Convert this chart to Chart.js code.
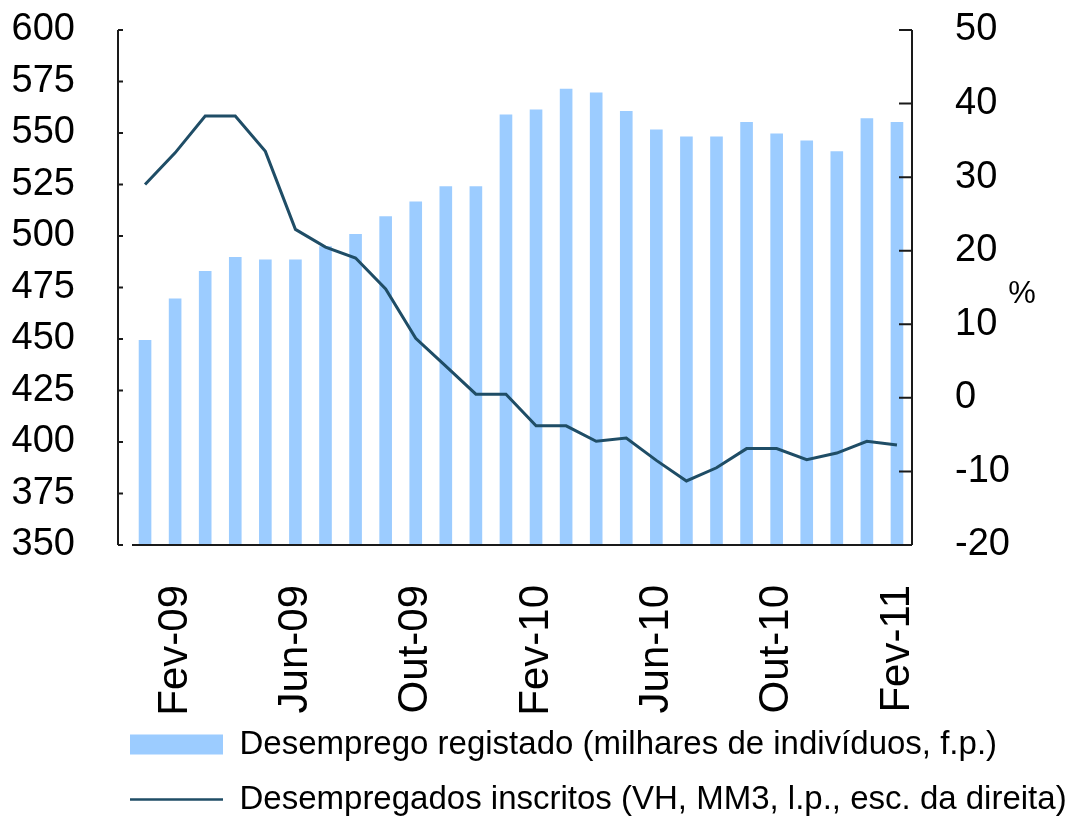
<!DOCTYPE html>
<html>
<head>
<meta charset="utf-8">
<script src="https://cdn.jsdelivr.net/npm/chart.js@4.4.1/dist/chart.umd.min.js"></script>
<style>
  html, body { margin: 0; padding: 0; background: #fff; }
  #wrap { width: 1077px; height: 821px; position: relative; }
</style>
</head>
<body>
<div id="wrap"><canvas id="desempregoChart"></canvas></div>
<script>
// Meses (Jan-09 a Fev-11)
const meses = ['Jan-09', 'Fev-09', 'Mar-09', 'Abr-09', 'Mai-09', 'Jun-09', 'Jul-09', 'Ago-09', 'Set-09',
    'Out-09', 'Nov-09', 'Dez-09', 'Jan-10', 'Fev-10', 'Mar-10', 'Abr-10', 'Mai-10', 'Jun-10', 'Jul-10',
    'Ago-10', 'Set-10', 'Out-10', 'Nov-10', 'Dez-10', 'Jan-11', 'Fev-11'];

// Desemprego registado (milhares de indivíduos) - escala da esquerda
const desemprego = [449.5, 469.6, 483, 489.8, 488.6, 488.6, 495, 501, 509.6, 516.7, 524.2, 524.2, 559,
    561.4, 571.5, 569.7, 560.7, 551.7, 548.3, 548.3, 555.3, 549.8, 546.4, 541.2, 557.1, 555.3];

// Desempregados inscritos (VH, MM3, %) - escala da direita
const inscritos = [29, 33.3, 38.3, 38.3, 33.5, 22.9, 20.5, 19.0, 14.8, 8.1, 4.3, 0.5, 0.5, -3.8, -3.8,
    -5.9, -5.45, -8.5, -11.3, -9.5, -6.9, -6.9, -8.4, -7.5, -5.9, -6.4];

const ticksEsq = [350, 375, 400, 425, 450, 475, 500, 525, 550, 575, 600];
const ticksDir = [-20, -10, 0, 10, 20, 30, 40, 50];

const corBarra = '#9cccff';
const corLinha = '#1f4d66';
const fonte = "'Liberation Sans', Arial, sans-serif";

// sem margem extra por cima/baixo causada pelo padding das etiquetas
function fixWidth(w) {
    return scale => {
        scale.width = w;
        scale.paddingTop = 0;
        scale.paddingBottom = 0;
    };
}

// Eixos desenhados à mão: eixo esquerdo afastado da área, marcas para dentro
const axisFrame = {
    id: 'axisFrame',
    afterLayout(chart) {
        // alinhar a legenda à esquerda com a área do gráfico
        const lg = chart.legend;
        lg.left = chart.chartArea.left - lg.options.labels.padding;
        lg.top = chart.chartArea.bottom + 161;
    },
    afterDraw(chart) {
        const { ctx, chartArea, scales } = chart;
        const yL = scales.y;
        const yR = scales.y1;
        ctx.save();
        ctx.strokeStyle = '#1a1a1a';
        ctx.lineWidth = 2;
        ctx.beginPath();
        const lx = chartArea.left - 12;
        ctx.moveTo(lx, yL.getPixelForValue(600));
        ctx.lineTo(lx, yL.getPixelForValue(350));
        ticksEsq.forEach(v => {
            const py = yL.getPixelForValue(v);
            ctx.moveTo(lx, py);
            ctx.lineTo(lx + 5, py);
        });
        const rx = chartArea.right;
        ctx.moveTo(rx, yR.getPixelForValue(50));
        ctx.lineTo(rx, yR.getPixelForValue(-20));
        ticksDir.forEach(v => {
            const py = yR.getPixelForValue(v);
            ctx.moveTo(rx, py);
            ctx.lineTo(rx - 13, py);
        });
        ctx.moveTo(chartArea.left + 2, chartArea.bottom);
        ctx.lineTo(rx, chartArea.bottom);
        ctx.stroke();

        ctx.fillStyle = '#000';
        ctx.font = '31px ' + fonte;
        ctx.textAlign = 'center';
        ctx.textBaseline = 'middle';
        ctx.fillText('%', rx + 110, yR.getPixelForValue(14));
        ctx.restore();
    }
};

const ctx = document.getElementById('desempregoChart').getContext('2d');
new Chart(ctx, {
    type: 'bar',
    data: {
        labels: meses,
        datasets: [{
            label: 'Desemprego registado (milhares de indivíduos, f.p.)',
            data: desemprego,
            backgroundColor: corBarra,
            borderWidth: 0,
            barPercentage: 0.42,
            categoryPercentage: 1,
            yAxisID: 'y',
            order: 2
        }, {
            type: 'line',
            label: 'Desempregados inscritos (VH, MM3, l.p., esc. da direita)',
            data: inscritos,
            borderColor: corLinha,
            backgroundColor: corLinha,
            borderWidth: 3,
            pointRadius: 0,
            tension: 0,
            yAxisID: 'y1',
            order: 1
        }]
    },
    options: {
        responsive: true,
        maintainAspectRatio: false,
        animation: false,
        layout: {
            padding: { left: 0, right: 0, top: 30, bottom: -14 }
        },
        scales: {
            x: {
                grid: { display: false },
                border: { display: false },
                afterFit: scale => { scale.height = 170; },
                ticks: {
                    autoSkip: false,
                    minRotation: 90,
                    maxRotation: 90,
                    padding: 32,
                    color: '#000',
                    font: { family: fonte, size: 42 },
                    callback: function (value, index) {
                        return (index - 1) % 4 === 0 ? meses[index] : '';
                    }
                }
            },
            y: {
                position: 'left',
                min: 350,
                max: 600,
                grid: { display: false },
                border: { display: false },
                afterFit: fixWidth(130),
                ticks: {
                    stepSize: 25,
                    autoSkip: false,
                    padding: 47,
                    color: '#000',
                    font: { family: fonte, size: 38 }
                }
            },
            y1: {
                position: 'right',
                min: -20,
                max: 50,
                grid: { display: false },
                border: { display: false },
                afterFit: fixWidth(165),
                ticks: {
                    stepSize: 10,
                    autoSkip: false,
                    padding: 35,
                    color: '#000',
                    font: { family: fonte, size: 38 }
                }
            }
        },
        plugins: {
            tooltip: { enabled: false },
            legend: {
                position: 'bottom',
                align: 'start',
                labels: {
                    usePointStyle: true,
                    pointStyleWidth: 93,
                    boxHeight: 20,
                    padding: 22,
                    color: '#000',
                    font: { family: fonte, size: 33 },
                    sort: (a, b) => a.datasetIndex - b.datasetIndex,
                    generateLabels: function (chart) {
                        const items = Chart.defaults.plugins.legend.labels.generateLabels(chart);
                        items.forEach(item => {
                            if (item.datasetIndex === 0) {
                                item.pointStyle = 'rect';
                                item.lineWidth = 0;
                                item.fillStyle = corBarra;
                            } else {
                                item.pointStyle = 'line';
                                item.lineWidth = 2.5;
                                item.strokeStyle = corLinha;
                            }
                        });
                        return items;
                    }
                }
            }
        }
    },
    plugins: [axisFrame]
});
</script>
</body>
</html>
